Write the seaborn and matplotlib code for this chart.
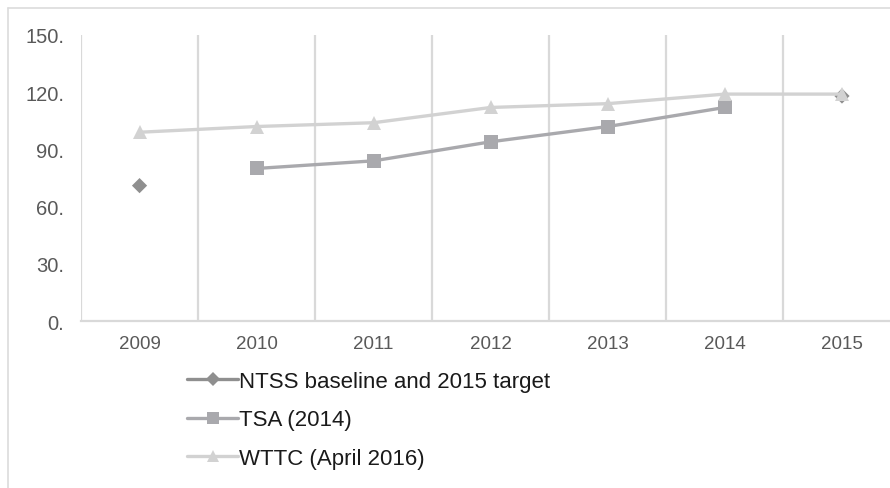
import matplotlib
matplotlib.use("Agg")
import matplotlib.pyplot as plt
from matplotlib.lines import Line2D
import seaborn as sns
import numpy as np
import pandas as pd

years = ["2009", "2010", "2011", "2012", "2013", "2014", "2015"]
ntss = [71, None, None, None, None, None, 118]
tsa = [None, 80, 84, 94, 102, 112, None]
wttc = [99, 102, 104, 112, 114, 119, 119]
labels = ["NTSS baseline and 2015 target", "TSA (2014)", "WTTC (April 2016)"]
colors = ["#8f8f8f", "#a9a9ad", "#d2d2d2"]
markers = ["D", "s", "^"]

sns.set_theme(style="white")
plt.rcParams["font.family"] = ["Liberation Sans", "DejaVu Sans"]

fig = plt.figure(figsize=(8.9, 4.89), dpi=100)
ax = fig.add_axes([81 / 890, 1 - 322 / 489, 1 - 81 / 890, (322 - 36) / 489])

pos = np.arange(len(years))
series = [ntss, tsa, wttc]
for i, (vals, lab) in enumerate(zip(series, labels)):
    df = pd.DataFrame({"x": pos, "y": vals}).dropna()
    if i == 0:
        # baseline and target are not joined in the source
        sns.scatterplot(data=df, x="x", y="y", ax=ax, marker=markers[i], s=60,
                        color=colors[i], edgecolor="none", zorder=3 + i)
    else:
        sns.lineplot(data=df, x="x", y="y", ax=ax, marker=markers[i], markersize=10.5,
                     color=colors[i], linewidth=2.4, markeredgewidth=0, zorder=3 + i)

ax.set_xlim(-0.5, (890 - 140) / 117)
ax.set_ylim(0, 150)
ax.set_yticks([0, 30, 60, 90, 120, 150])
ax.set_yticklabels(["%d." % v for v in [0, 30, 60, 90, 120, 150]])
ax.set_xticks(pos)
ax.set_xticklabels(years)
ax.set_xlabel("")
ax.set_ylabel("")
ax.tick_params(axis="both", length=0, labelsize=13.5, labelcolor="#595959")
ax.tick_params(axis="y", labelsize=14.5, pad=12)
ax.tick_params(axis="x", pad=10)
for b in np.arange(-0.5, 6.5, 1.0):
    ax.axvline(b, color="#d9d9d9", linewidth=1.6, zorder=1)
for s in ["top", "right", "left"]:
    ax.spines[s].set_visible(False)
ax.spines["bottom"].set_color("#d9d9d9")
ax.spines["bottom"].set_linewidth(1.6)

# outer frame (cropped on right and bottom)
fig.add_artist(Line2D([8 / 890, 1], [1 - 9 / 489, 1 - 9 / 489], color="#dcdcdc", linewidth=1.2))
fig.add_artist(Line2D([8 / 890, 8 / 890], [0, 1 - 9 / 489], color="#dcdcdc", linewidth=1.2))

handles = [Line2D([], [], color=c, marker=m, markersize=ms, linewidth=2.4, markeredgewidth=0)
           for c, m, ms in zip(colors, markers, [7, 9, 9])]
fig.legend(handles, labels, loc="upper left", bbox_to_anchor=(187 / 890, 1 - 372 / 489),
           frameon=False, fontsize=16, handlelength=2.3, handletextpad=0.05,
           labelspacing=0.78, borderpad=0, borderaxespad=0, labelcolor="#1a1a1a")

fig.savefig("out.png", dpi=100, facecolor="white")
